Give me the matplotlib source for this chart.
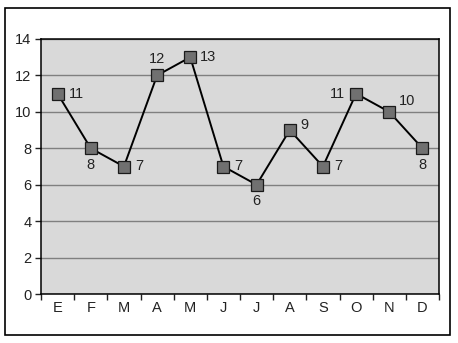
import matplotlib.pyplot as plt
from matplotlib.patches import Rectangle
import numpy as np

months = ["E", "F", "M", "A", "M", "J", "J", "A", "S", "O", "N", "D"]
values = [11, 8, 7, 12, 13, 7, 6, 9, 7, 11, 10, 8]
y_ticks = [0, 2, 4, 6, 8, 10, 12, 14]

# where each value label sits relative to its marker (points, ha, va)
label_pos = [
    ((8, 0), "left", "center"),
    ((0, -7), "center", "top"),
    ((8, 0), "left", "center"),
    ((0, 7), "center", "bottom"),
    ((7, 0), "left", "center"),
    ((8, 0), "left", "center"),
    ((0, -7), "center", "top"),
    ((8, 4), "left", "center"),
    ((8, 0), "left", "center"),
    ((-8, 0), "right", "center"),
    ((7, 8), "left", "center"),
    ((0, -7), "center", "top"),
]

plt.rcParams['font.family'] = ['Liberation Sans', 'DejaVu Sans']
fs = 10.5

fig = plt.figure(figsize=(4.58, 3.43), dpi=100)
ax = fig.add_axes([41 / 458, 1 - 294 / 343, 398 / 458, 255 / 343])
ax.set_facecolor("#d9d9d9")

x = np.arange(len(months))
ax.plot(x, values, '-', color="black", lw=1.4, zorder=3)
ax.plot(x, values, 's', ms=8.5, mfc="#707070", mec="#1a1a1a", mew=0.9, zorder=4)

for xi, v, (off, ha, va) in zip(x, values, label_pos):
    ax.annotate(str(v), (xi, v), xytext=off, textcoords="offset points",
                ha=ha, va=va, fontsize=fs, color="#222222")

ax.set_xlim(-0.5, len(months) - 0.5)
ax.set_ylim(0, 14)
ax.set_yticks(y_ticks)
ax.yaxis.grid(True, color="#808080", lw=1)
ax.set_axisbelow(True)

ax.set_xticks(np.arange(-0.5, len(months)), [""] * (len(months) + 1))
ax.set_xticks(x, months, minor=True)
ax.tick_params(axis="x", which="major", length=4, width=1, direction="out")
ax.tick_params(axis="x", which="minor", length=0, pad=5, labelsize=fs)
ax.tick_params(axis="y", length=4, width=1, labelsize=fs, pad=3)
ax.tick_params(colors="#222222", which="both")
for s in ax.spines.values():
    s.set_linewidth(1.1)

fig.patches.append(Rectangle((5 / 458, 1 - 335 / 343), 445 / 458, 327 / 343,
                             transform=fig.transFigure, fill=False,
                             edgecolor="black", lw=1.2))

plt.savefig("out.png", dpi=100)
